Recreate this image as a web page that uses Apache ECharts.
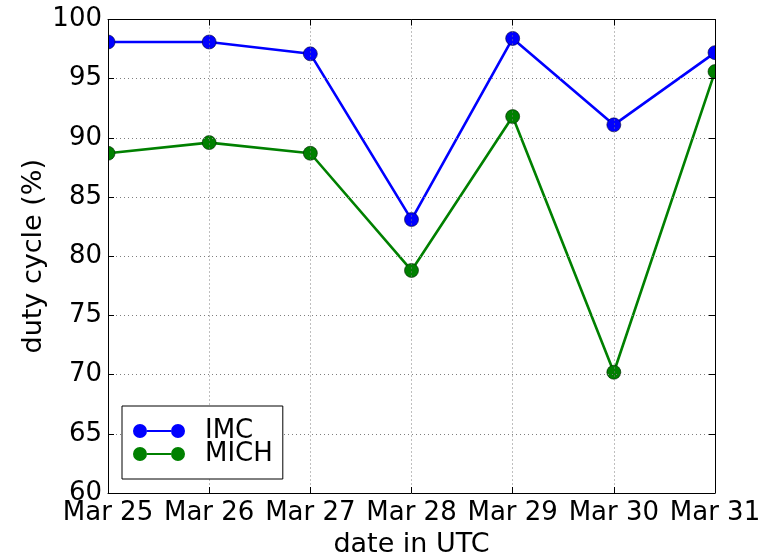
<!DOCTYPE html>
<html>
<head>
<meta charset="utf-8">
<script src="https://cdn.jsdelivr.net/npm/echarts@6/dist/echarts.min.js"></script>
<style>html,body{margin:0;padding:0;background:#fff;}#c{width:767px;height:558px;}</style>
</head>
<body>
<div id="c"></div>
<script>
const dates = ['Mar 25', 'Mar 26', 'Mar 27', 'Mar 28', 'Mar 29', 'Mar 30', 'Mar 31'];
const imc = [98.1, 98.1, 97.1, 83.1, 98.4, 91.1, 97.2];
const mich = [88.7, 89.6, 88.7, 78.8, 91.8, 70.2, 95.6];
const yTicks = [60, 65, 70, 75, 80, 85, 90, 95, 100];

const FONT = 'DejaVu Sans';
const FS = 26;
const FSN = 27;
const G = {left: 108, right: 52, top: 19.5, bottom: 65};
const W = 767, H = 558;

const chart = echarts.init(document.getElementById('c'), null, {renderer: 'canvas'});
const icon = 'path://M0,7A7,7 0 1,1 14,7A7,7 0 1,1 0,7Z M14,6L38,6L38,8L14,8Z M38,7A7,7 0 1,1 52,7A7,7 0 1,1 38,7Z';
const grid = {left: G.left, right: G.right, top: G.top, bottom: G.bottom, containLabel: false, outerBoundsMode: 'none'};
const split = {show: true, lineStyle: {color: '#7f7f7f', type: [1, 3], width: 1}};
chart.setOption({
  backgroundColor: '#fff',
  animation: false,
  grid: grid,
  legend: {
    orient: 'vertical', left: 122, top: 406,
    padding: [12, 10, 12, 11],
    backgroundColor: '#fff', borderColor: '#000', borderWidth: 1, borderRadius: 0,
    itemWidth: 52, itemHeight: 14, itemGap: -3,
    itemStyle: {borderWidth: 0},
    textStyle: {fontFamily: FONT, fontSize: FS, color: '#000', lineHeight: 22, padding: [0, 0, 0, 15]},
    icon: icon,
    z: 20,
    data: ['IMC', 'MICH']
  },
  graphic: [
    {type: 'rect', z: 4, silent: true, shape: {x: 0, y: 0, width: G.left, height: H}, style: {fill: '#fff'}},
    {type: 'rect', z: 4, silent: true, shape: {x: W - G.right, y: 0, width: G.right, height: H}, style: {fill: '#fff'}}
  ],
  xAxis: [{
    type: 'category', data: dates, boundaryGap: false, z: 10,
    name: 'date in UTC', nameLocation: 'middle', nameGap: 38, nameMoveOverlap: false,
    nameTextStyle: {fontFamily: FONT, fontSize: FSN, color: '#000'},
    axisLine: {lineStyle: {color: '#000', width: 1}},
    axisTick: {inside: true, length: 6, lineStyle: {color: '#000'}},
    axisLabel: {fontFamily: FONT, fontSize: FS, color: '#000', margin: 7, interval: 0},
    splitLine: split
  }, {
    type: 'category', data: dates, boundaryGap: false, position: 'top', z: 10,
    axisLine: {lineStyle: {color: '#000', width: 1}},
    axisTick: {inside: true, length: 6, lineStyle: {color: '#000'}},
    axisLabel: {show: false}, splitLine: {show: false}
  }],
  yAxis: [{
    type: 'value', min: 60, max: 100, interval: 5, z: 10,
    name: 'duty cycle (%)', nameLocation: 'middle', nameGap: 61, nameMoveOverlap: false,
    nameTextStyle: {fontFamily: FONT, fontSize: FSN, color: '#000'},
    axisLine: {show: true, lineStyle: {color: '#000', width: 1}},
    axisTick: {show: true, inside: true, length: 6, lineStyle: {color: '#000'}},
    axisLabel: {fontFamily: FONT, fontSize: FS, color: '#000', margin: 6,
      customValues: yTicks},
    splitLine: split
  }, {
    type: 'value', min: 60, max: 100, interval: 5, position: 'right', z: 10,
    axisLine: {show: true, lineStyle: {color: '#000', width: 1}},
    axisTick: {show: true, inside: true, length: 6, lineStyle: {color: '#000'}},
    axisLabel: {show: false}, splitLine: {show: false}
  }],
  series: [{
    name: 'IMC', type: 'line', data: imc, z: 2,
    symbol: 'circle', symbolSize: 14, clip: false,
    lineStyle: {color: '#0000ff', width: 2.6},
    itemStyle: {color: '#0000ff', borderColor: '#000033', borderWidth: 0.6}
  }, {
    name: 'MICH', type: 'line', data: mich, z: 2,
    symbol: 'circle', symbolSize: 14, clip: false,
    lineStyle: {color: '#008000', width: 2.6},
    itemStyle: {color: '#008000', borderColor: '#002000', borderWidth: 0.6}
  }]
});
</script>
</body>
</html>
